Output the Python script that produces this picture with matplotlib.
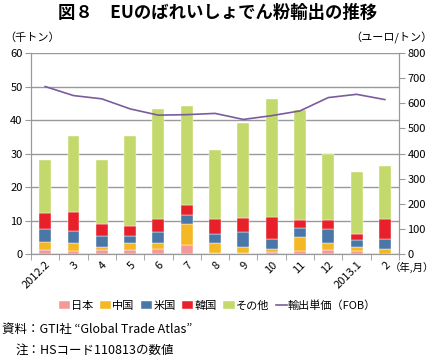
import numpy as np
import matplotlib as mpl
mpl.use('Agg')
import matplotlib.pyplot as plt

plt.rcParams['font.family'] = ['Noto Sans CJK JP', 'DejaVu Sans']

labels = ['2012.2', '3', '4', '5', '6', '7', '8', '9', '10', '11', '12', '2013.1', '2']
# segment values (千トン)
japan = [1.2, 1.0, 1.2, 1.2, 1.4, 2.7, 0.2, 0.2, 0.5, 0.9, 1.3, 0.8, 0.1]
china = [2.5, 2.4, 1.0, 2.0, 2.0, 6.3, 3.2, 1.8, 1.0, 4.1, 2.1, 1.3, 1.4]
usa = [3.8, 3.6, 3.3, 2.3, 3.3, 2.6, 2.6, 4.7, 3.0, 2.7, 4.0, 2.2, 3.0]
korea = [4.8, 5.6, 3.4, 2.8, 3.9, 3.1, 4.6, 4.2, 6.5, 2.5, 2.7, 1.6, 5.9]
other = [15.8, 22.7, 19.2, 27.0, 32.7, 29.4, 20.5, 28.1, 35.2, 32.9, 19.7, 18.6, 16.0]
price = [667, 631, 618, 578, 553, 555, 560, 536, 551, 570, 623, 636, 615]

colors = ['#F4999A', '#F5B825', '#4A76A8', '#E8202A', '#C4D96B']
names = ['日本', '中国', '米国', '韓国', 'その他']

fig = plt.figure(figsize=(4.35, 3.6), dpi=100)
ax = fig.add_axes([0.0713, 0.2944, 0.846, 0.558])
x = np.arange(len(labels))
bottom = np.zeros(len(labels))
handles = []
for vals, c, n in zip([japan, china, usa, korea, other], colors, names):
    b = ax.bar(x, vals, 0.42, bottom=bottom, color=c, edgecolor='white', linewidth=0.3, label=n, zorder=3)
    handles.append(b)
    bottom += np.array(vals)

ax.set_xlim(-0.5, 12.5)
ax.set_ylim(0, 60)
ax.set_yticks(range(0, 61, 10))
ax.yaxis.grid(True, color='#999999', linewidth=1, zorder=0)
ax.set_axisbelow(True)
ax.set_xticks(x)
ax.set_xticklabels(labels, rotation=45, ha='right', rotation_mode='anchor', fontsize=8)
ax.set_xticks(np.arange(-0.5, 13, 1), minor=True)
ax.tick_params(axis='x', which='major', length=0, pad=4)
ax.tick_params(axis='x', which='minor', length=4, color='#999999')
ax.tick_params(axis='y', labelsize=8, length=4, color='#999999', pad=2)
ax.spines['top'].set_visible(False)
for s in ['left', 'bottom', 'right']:
    ax.spines[s].set_color('#999999')

ax2 = ax.twinx()
ax2.set_ylim(0, 800)
ax2.set_yticks(range(0, 801, 100))
ln, = ax2.plot(x, price, color='#7A5C9E', linewidth=1.2, label='輸出単価（FOB）', zorder=4)
ax2.tick_params(axis='y', labelsize=8, length=4, color='#999999', pad=2)
ax2.spines['top'].set_visible(False)
for s in ['left', 'bottom', 'right']:
    ax2.spines[s].set_color('#999999')

fig.text(0.5, 0.965, '図８　EUのばれいしょでん粉輸出の推移', ha='center', va='center', fontsize=12.5, fontweight='bold')
fig.text(0.01, 0.895, '（千トン）', ha='left', va='center', fontsize=8)
fig.text(0.995, 0.895, '（ユーロ/トン）', ha='right', va='center', fontsize=8)
fig.text(0.998, 0.258, '（年,月）', ha='right', va='center', fontsize=7.5)

fig.legend(handles + [ln], names + ['輸出単価（FOB）'], loc='center', bbox_to_anchor=(0.5, 0.152),
           ncol=6, frameon=False, fontsize=8, handlelength=1.0, handleheight=0.8,
           handletextpad=0.1, columnspacing=0.6)

fig.text(0.005, 0.085, '資料：GTI社 “Global Trade Atlas”', ha='left', va='center', fontsize=9)
fig.text(0.035, 0.028, '注：HSコード110813の数値', ha='left', va='center', fontsize=9)

plt.savefig('out.png', dpi=100)
